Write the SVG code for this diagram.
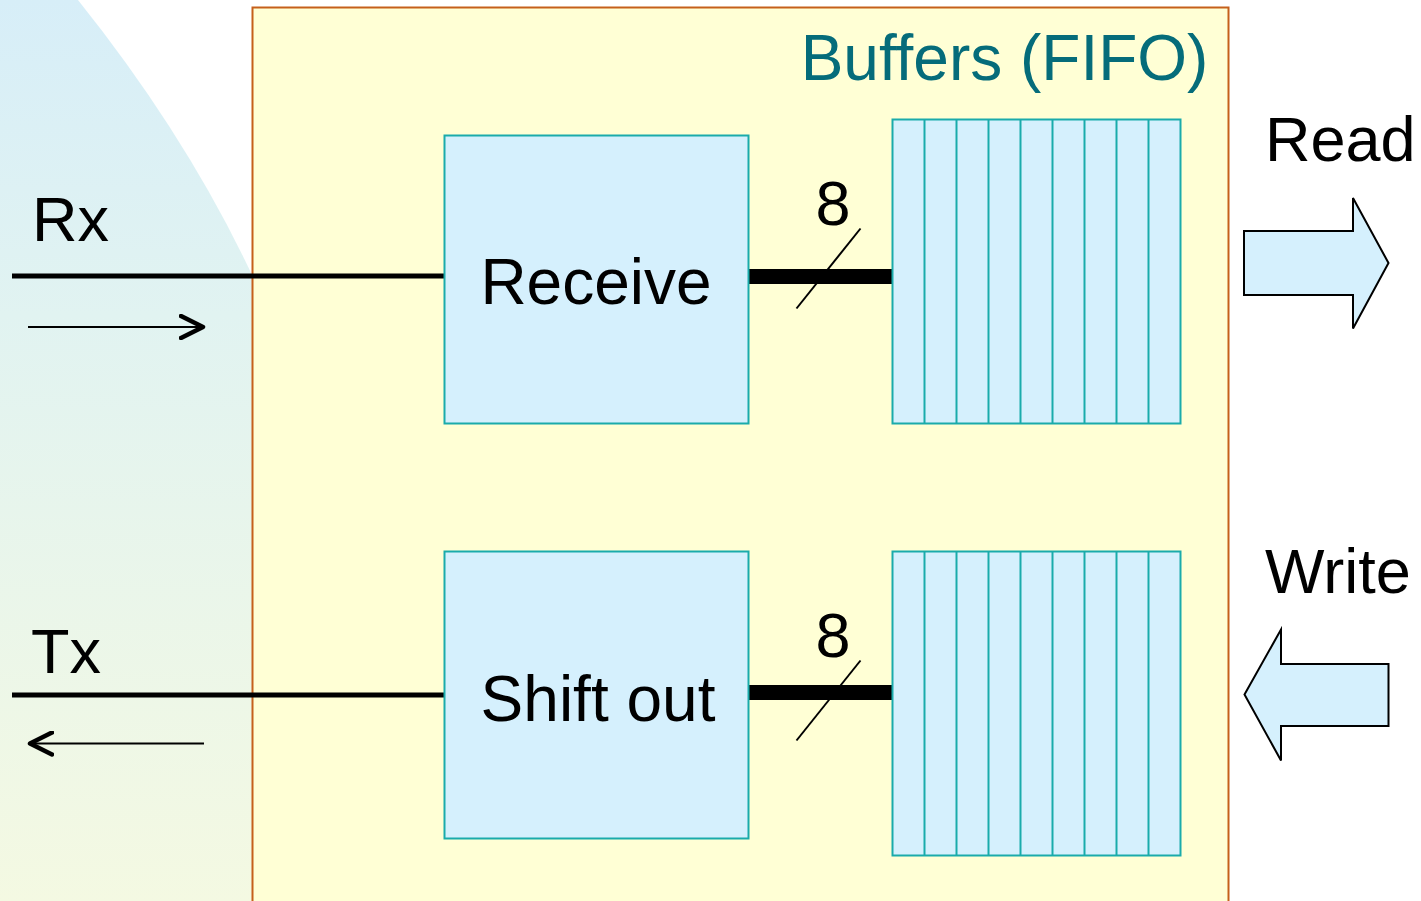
<svg xmlns="http://www.w3.org/2000/svg" width="1421" height="901" viewBox="0 0 1421 901">
  <defs>
    <linearGradient id="bgFade" x1="0" y1="0" x2="0" y2="901" gradientUnits="userSpaceOnUse">
      <stop offset="0" stop-color="#d7eef8"/>
      <stop offset="0.35" stop-color="#e1f3f1"/>
      <stop offset="1" stop-color="#f4f9e2"/>
    </linearGradient>
    <marker id="chevron" viewBox="0 0 28 26" refX="24" refY="13" markerWidth="28" markerHeight="26" markerUnits="userSpaceOnUse" orient="auto">
      <path d="M2,2 L24,13 L2,24" fill="none" stroke="#000" stroke-width="4.5" stroke-linecap="round" stroke-linejoin="round"/>
    </marker>
  </defs>
  <style>
    .lbl { font-family: "Liberation Sans", Arial, sans-serif; font-size: 63px; fill: #000; }
    .big { font-size: 64px; }
    .title { font-family: "Liberation Sans", Arial, sans-serif; font-size: 64px; fill: #056c7a; }
    .block { fill: #d5f0fd; stroke: #1aabab; stroke-width: 2; }
    .cell { fill: none; stroke: #1aabab; stroke-width: 2; }
    .wire { stroke: #000; stroke-width: 5; fill: none; }
    .bus { stroke: #000; stroke-width: 15; fill: none; }
    .slash { stroke: #000; stroke-width: 2; fill: none; }
    .dir { stroke: #000; stroke-width: 2; fill: none; marker-end: url(#chevron); }
    .bigarrow { fill: #d5f0fd; stroke: #000; stroke-width: 2; stroke-linejoin: miter; }
  </style>

  <rect width="1421" height="901" fill="#ffffff"/>

  <!-- soft curved backdrop on the line side -->
  <path d="M0,0 H78 Q186.5,135.6 252,275 L330,470 V901 H0 Z" fill="url(#bgFade)"/>

  <!-- peripheral enclosure -->
  <g id="buffers">
    <rect x="252.5" y="7.5" width="976" height="910" fill="#ffffd5" stroke="#c5601b" stroke-width="2"/>
    <text class="title" x="1004.5" y="80" text-anchor="middle">Buffers (FIFO)</text>
  </g>

  <g id="connectors">
    <line class="wire" x1="12" y1="276" x2="444" y2="276"/>
    <line class="wire" x1="12" y1="695" x2="444" y2="695"/>
    <line class="bus" x1="748" y1="276.5" x2="893" y2="276.5"/>
    <line class="bus" x1="748" y1="692.5" x2="893" y2="692.5"/>
    <line class="slash" x1="796.5" y1="308.5" x2="860.5" y2="228.5"/>
    <line class="slash" x1="796.5" y1="740.5" x2="860.5" y2="660.5"/>
    <line class="dir" x1="28" y1="327" x2="203" y2="327"/>
    <line class="dir" x1="204" y1="743.5" x2="30" y2="743.5"/>
  </g>

  <g id="label-rx"><text class="lbl" x="32" y="241">Rx</text></g>
  <g id="label-tx"><text class="lbl" x="31" y="673">Tx</text></g>
  <g id="width-rx"><text class="lbl" x="833" y="225" text-anchor="middle">8</text></g>
  <g id="width-tx"><text class="lbl" x="833" y="657" text-anchor="middle">8</text></g>

  <g id="receive">
    <rect class="block" x="444.5" y="135.5" width="304" height="288"/>
    <text class="lbl big" x="596" y="304" text-anchor="middle">Receive</text>
  </g>

  <g id="shift-out">
    <rect class="block" x="444.5" y="551.5" width="304" height="287"/>
    <text class="lbl big" x="598" y="721" text-anchor="middle">Shift out</text>
  </g>

  <g id="rx-fifo">
    <rect class="block" x="892.5" y="119.5" width="288" height="304"/>
    <path class="cell" d="M924.5,119.5 V423.5 M956.5,119.5 V423.5 M988.5,119.5 V423.5 M1020.5,119.5 V423.5 M1052.5,119.5 V423.5 M1084.5,119.5 V423.5 M1116.5,119.5 V423.5 M1148.5,119.5 V423.5"/>
  </g>

  <g id="tx-fifo">
    <rect class="block" x="892.5" y="551.5" width="288" height="304"/>
    <path class="cell" d="M924.5,551.5 V855.5 M956.5,551.5 V855.5 M988.5,551.5 V855.5 M1020.5,551.5 V855.5 M1052.5,551.5 V855.5 M1084.5,551.5 V855.5 M1116.5,551.5 V855.5 M1148.5,551.5 V855.5"/>
  </g>

  <g id="read">
    <text class="lbl" x="1265" y="161">Read</text>
    <polygon class="bigarrow" points="1244,231 1353,231 1353,198 1388.5,263 1353,328.5 1353,295 1244,295"/>
  </g>

  <g id="write">
    <text class="lbl" x="1265" y="593">Write</text>
    <polygon class="bigarrow" points="1388.5,664 1281,664 1281,629.5 1244.5,694.5 1281,760.5 1281,726 1388.5,726"/>
  </g>
</svg>
